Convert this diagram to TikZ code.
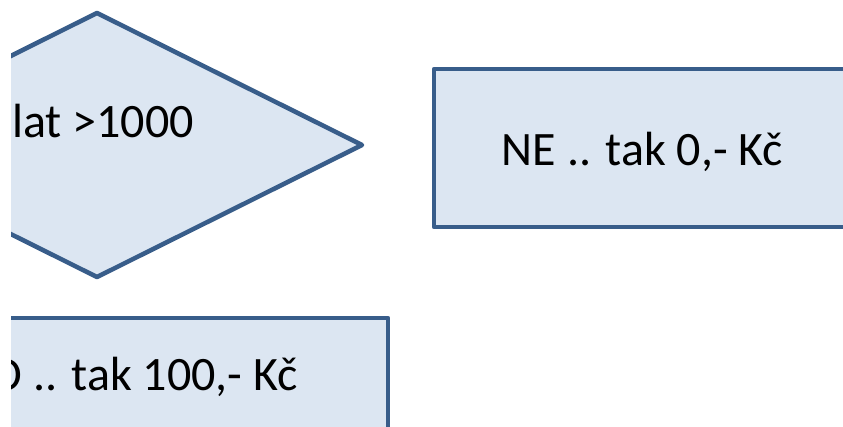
\documentclass[tikz,border=0pt]{standalone}
\usepackage{fontspec}
\setmainfont{Carlito}
\definecolor{boxfill}{HTML}{DCE6F2}
\definecolor{boxline}{HTML}{385D8A}
\tikzset{
  flowbox/.style={fill=boxfill,draw=boxline,line width=3.4pt,line join=round},
  flowtext/.style={font=\fontsize{36}{43}\selectfont,inner sep=0pt}
}
\begin{document}
\begin{tikzpicture}[x=0.75pt,y=-0.75pt]
\useasboundingbox (0,0) rectangle (843,426);
\clip (11,0) rectangle (843,426);
% rozhodovaci kosoctverec
\draw[flowbox] (97,13) -- (362,145) -- (97,277) -- (-168,145) -- cycle;
\node[flowtext,anchor=base west] (cond) at (12,137) {lat >1000};
% vetev NE
\draw[flowbox] (434,69) rectangle (860,227);
\node[flowtext,anchor=base] (no) at (642.5,165) {NE .. tak 0,- Kč};
% vetev ANO
\draw[flowbox] (-30,318) rectangle (388,440);
\node[flowtext,anchor=base east] (yes) at (298,390) {O .. tak 100,- Kč};
\end{tikzpicture}
\end{document}
